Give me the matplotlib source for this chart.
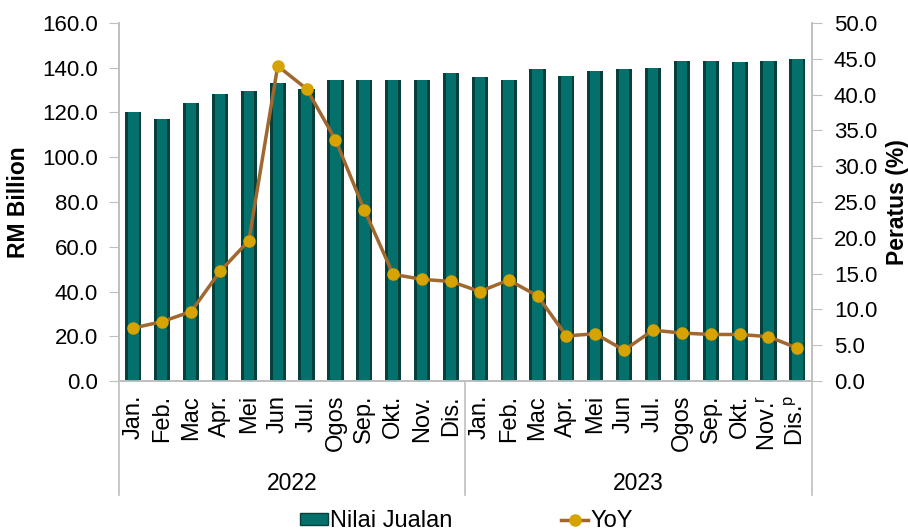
import numpy as np
import matplotlib
matplotlib.use("Agg")
import matplotlib.pyplot as plt
import matplotlib.transforms as mtransforms
from matplotlib.lines import Line2D
from matplotlib.patches import Patch

# Data
months = ["Jan.", "Feb.", "Mac", "Apr.", "Mei", "Jun", "Jul.", "Ogos", "Sep.", "Okt.", "Nov.", "Dis.",
          "Jan.", "Feb.", "Mac", "Apr.", "Mei", "Jun", "Jul.", "Ogos", "Sep.", "Okt.", "Nov.$^{r}$", "Dis.$^{p}$"]
years = ["2022", "2023"]
sales = [120.2, 117.3, 124.4, 128.3, 129.7, 133.3, 130.7, 134.3, 134.3, 134.3, 134.7, 137.7,
         135.7, 134.3, 139.3, 136.1, 138.6, 139.3, 140.1, 143.1, 143.1, 142.7, 143.1, 144.0]
yoy = [7.4, 8.3, 9.7, 15.3, 19.6, 44.0, 40.8, 33.7, 23.9, 14.9, 14.2, 13.9,
       12.5, 14.1, 11.9, 6.3, 6.6, 4.3, 7.1, 6.7, 6.5, 6.5, 6.2, 4.6]

plt.rcParams['font.family'] = ['Liberation Sans', 'DejaVu Sans']
plt.rcParams['mathtext.fontset'] = 'custom'
plt.rcParams['mathtext.rm'] = 'Liberation Sans'
plt.rcParams['mathtext.it'] = 'Liberation Sans'

grey = "#BFBFBF"
fig = plt.figure(figsize=(9.08, 5.32), dpi=100)
ax = fig.add_axes([0.131, 0.2838, 0.763, 0.673])
ax2 = ax.twinx()

x = np.arange(len(months))

# Bars: dark outer body plus lighter core to mimic the shaded columns
ax.bar(x, sales, width=0.56, color="#06403D", zorder=2)
ax.bar(x, sales, width=0.36, color="#04706B", zorder=3)
ax.set_ylim(0, 160)
ax.set_yticks(np.arange(0, 161, 20))
ax.set_yticklabels([f"{v:.1f}" for v in np.arange(0, 161, 20)])
ax.set_xlim(-0.5, len(months) - 0.5)
ax.set_xticks(x)
ax.set_xticklabels(months, rotation=90, fontsize=17)
ax.tick_params(axis='x', length=0, pad=10)
ax.tick_params(axis='y', labelsize=16, length=7, color=grey, direction='out', pad=8)
ax.set_ylabel("RM Billion", fontsize=16.5, fontweight='bold')
ax.yaxis.set_label_coords(-0.128, 0.5)

# YoY line
ax2.plot(x, yoy, color="#A0672E", lw=2.5, marker='o', markersize=8,
         markerfacecolor="#D6A300", markeredgecolor="#D6A300", zorder=5)
ax2.set_ylim(0, 50)
ax2.set_yticks(np.arange(0, 51, 5))
ax2.set_yticklabels([f"{v:.1f}" for v in np.arange(0, 51, 5)])
ax2.tick_params(axis='y', labelsize=16, length=7, color=grey, direction='out', pad=9)
ax2.set_ylabel("Peratus (%)", fontsize=16.5, fontweight='bold')
ax2.yaxis.set_label_coords(1.107, 0.5)

for a in (ax, ax2):
    a.spines['top'].set_visible(False)
    for s in ('left', 'right', 'bottom'):
        a.spines[s].set_color(grey)
        a.spines[s].set_linewidth(1.2)

# Year group labels and separators
trans = mtransforms.blended_transform_factory(ax.transData, ax.transAxes)
for xs in (-0.5, 11.5, 23.5):
    ax.add_line(Line2D([xs, xs], [0, -0.318], transform=trans, color=grey,
                       lw=1.2, clip_on=False))
for i, yr in enumerate(years):
    ax.text(i * 12 + 5.5, -0.285, yr, transform=trans, ha='center', va='center', fontsize=16.5)

handles = [Patch(facecolor="#04706B", edgecolor="#06403D", label="Nilai Jualan"),
           Line2D([0], [0], color="#A0672E", lw=2.5, marker='o', markersize=8,
                  markerfacecolor="#D6A300", markeredgecolor="#D6A300", label="YoY")]
fig.legend(handles=handles, loc='center', bbox_to_anchor=(0.514, 0.02), ncol=2,
           frameon=False, fontsize=17, columnspacing=4.6, handlelength=1.15,
           handleheight=0.4, handletextpad=0.1)

fig.savefig("out.png", dpi=100)
